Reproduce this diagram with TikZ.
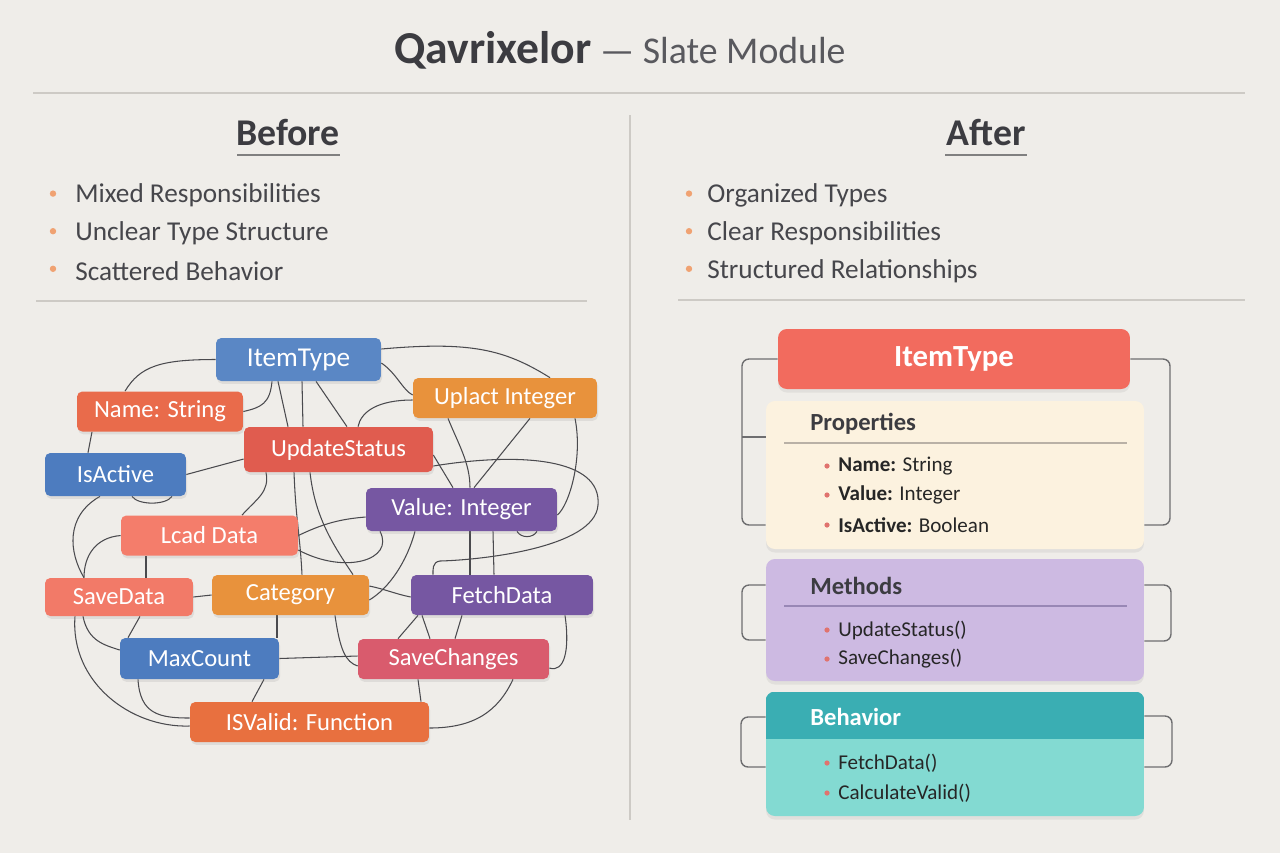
\documentclass[tikz,border=0pt]{standalone}
\usepackage{fontspec}
\setmainfont{Carlito}
\usetikzlibrary{shadows, backgrounds}

\definecolor{paper}{HTML}{EFEDE9}
\definecolor{ink}{HTML}{3C3C41}
\definecolor{listink}{HTML}{46464B}
\definecolor{rulegray}{HTML}{CDCAC5}
\definecolor{dotorange}{HTML}{F0A272}
\definecolor{dotred}{HTML}{E0736E}
\definecolor{wiregray}{HTML}{4A4A4E}
\definecolor{bracketgray}{HTML}{6E6E70}
\definecolor{tagblue}{HTML}{5A87C5}
\definecolor{tagnavy}{HTML}{4D7CBF}
\definecolor{tagorange}{HTML}{E8923C}
\definecolor{tagcoral}{HTML}{E96B4B}
\definecolor{tagred}{HTML}{E05C4F}
\definecolor{tagsalmon}{HTML}{F47D6B}
\definecolor{tagpurple}{HTML}{7657A2}
\definecolor{tagrose}{HTML}{D95B6D}
\definecolor{tagrust}{HTML}{E8703F}
\definecolor{hdrred}{HTML}{F26B5E}
\definecolor{propfill}{HTML}{FCF2DF}
\definecolor{proprule}{HTML}{B9B1A6}
\definecolor{methfill}{HTML}{CDBAE2}
\definecolor{methrule}{HTML}{9887B5}
\definecolor{behhead}{HTML}{3AAEB3}
\definecolor{behbody}{HTML}{83DAD2}

\tikzset{
  tag/.style={rectangle, rounded corners=3pt, text=white, minimum height=0.8cm,
    inner sep=2pt, font=\fontsize{14}{16}\selectfont,
    drop shadow={opacity=0.15, shadow xshift=0.6pt, shadow yshift=-1.6pt}},
  wire/.style={draw=wiregray, line width=0.6pt},
  bracket/.style={draw=bracketgray, line width=0.8pt, rounded corners=4pt},
  card/.style={rectangle, rounded corners=5pt, inner sep=0pt, minimum width=7.56cm,
    drop shadow={opacity=0.12, shadow xshift=0pt, shadow yshift=-2pt}},
  cardhead/.style={anchor=west, inner sep=0pt, text=ink, font=\bfseries\fontsize{14}{16}\selectfont},
  carditem/.style={anchor=west, inner sep=0pt, text=black!85, font=\fontsize{12}{14}\selectfont},
  listitem/.style={anchor=west, inner sep=0pt, text=listink, font=\fontsize{15.5}{18}\selectfont},
  colhead/.style={text=ink, font=\bfseries\fontsize{21.5}{25}\selectfont},
}

\begin{document}
\begin{tikzpicture}[x=0.02cm, y=-0.02cm]
\begin{pgfonlayer}{background}
  \fill[paper] (0,0) rectangle (1280,853);
\end{pgfonlayer}
\useasboundingbox (0,0) rectangle (1280,853);

% title and frame
\node[text=ink, font=\fontsize{21.5}{26}\selectfont] (title) at (620,50)
  {{\bfseries\fontsize{26}{28}\selectfont Qavrixelor} \textcolor{ink!85}{— Slate Module}};
\draw[rulegray, line width=0.9pt] (33,93) -- (1245,93);
\draw[rulegray, line width=0.9pt] (630,115) -- (630,820);

\node[colhead] (before) at (288,133) {Before};
\draw[gray, line width=0.8pt] (237,155) -- (340,155);
\node[colhead] (after) at (986,133) {After};
\draw[gray, line width=0.8pt] (945,155) -- (1027,155);

\foreach \t [count=\i] in {Mixed Responsibilities, Unclear Type Structure, Scattered Behavior} {
  \fill[dotorange] (53,156+\i*37.6) circle (3.2);
  \node[listitem] (bl\i) at (75,158+\i*37.6) {\t};
}
\foreach \t [count=\i] in {Organized Types, Clear Responsibilities, Structured Relationships} {
  \fill[dotorange] (689,156+\i*37.6) circle (3.2);
  \node[listitem] (al\i) at (707,158+\i*37.6) {\t};
}
\draw[rulegray, line width=0.9pt] (36,301) -- (587,301);
\draw[rulegray, line width=0.9pt] (678,300) -- (1245,300);

% before: the tangle
\node[tag, fill=tagblue, minimum width=3.3cm, minimum height=0.86cm, font=\fontsize{15.5}{18}\selectfont] (item) at (298.5,359.5) {ItemType};
\node[tag, fill=tagcoral, minimum width=3.32cm] (name) at (160,411.5) {Name: String};
\node[tag, fill=tagorange, minimum width=3.68cm] (uplact) at (505,398) {Uplact Integer};
\node[tag, fill=tagred, minimum width=3.78cm, minimum height=0.9cm] (upd) at (338.5,449.5) {UpdateStatus};
\node[tag, fill=tagnavy, minimum width=2.82cm, minimum height=0.86cm] (isact) at (115.5,474.5) {IsActive};
\node[tag, fill=tagpurple, minimum width=3.82cm, minimum height=0.86cm] (value) at (461.5,509.5) {Value: Integer};
\node[tag, fill=tagsalmon, minimum width=3.54cm] (lcad) at (209.5,535.5) {Lcad Data};
\node[tag, fill=tagsalmon!90!tagred, minimum width=2.96cm, minimum height=0.76cm] (savedata) at (119,597) {SaveData};
\node[tag, fill=tagorange, minimum width=3.14cm] (category) at (290.5,595) {Category};
\node[tag, fill=tagpurple, minimum width=3.64cm] (fetch) at (502,595) {FetchData};
\node[tag, fill=tagnavy, minimum width=3.18cm, minimum height=0.82cm] (maxc) at (199.5,658.5) {MaxCount};
\node[tag, fill=tagrose, minimum width=3.82cm] (savech) at (453.5,659) {SaveChanges};
\node[tag, fill=tagrust, minimum width=4.78cm] (isvalid) at (309.5,722) {ISValid: Function};

\begin{pgfonlayer}{background}
\draw[wire] (item.west) .. controls +(-55,0) and +(15,-25) .. (125,0 |- name.north);
\draw[wire] (272,0 |- item.south) .. controls +(-2,22) and +(18,-4) .. (name.east);
\draw[wire] (278,0 |- item.south) -- (288,0 |- upd.north);
\draw[wire] (302,0 |- item.south) -- (303,0 |- upd.north);
\draw[wire] (316,0 |- item.south) -- (347,0 |- upd.north);
\draw[wire] (item.east |- 0,349) .. controls +(90,-8) and +(-45,-28) .. (550,0 |- uplact.north);
\draw[wire] (item.east |- 0,363) .. controls +(15,10) and +(-10,-5) .. (uplact.west |- 0,395);
\draw[wire] (uplact.west |- 0,400) .. controls +(-35,0) and +(3,-15) .. (358,0 |- upd.north);
\draw[wire] (448,0 |- uplact.south) .. controls +(10,25) and +(0,-25) .. (470,0 |- value.north);
\draw[wire] (530,0 |- uplact.south) -- (474,0 |- value.north);
\draw[wire] (575,0 |- uplact.south) .. controls +(8,40) and +(12,-10) .. (value.east |- 0,515);
\draw[wire] (92,0 |- name.south) -- (88,0 |- isact.north);
\draw[wire] (isact.east) -- (upd.west |- 0,459);
\draw[wire] (132,0 |- isact.south) .. controls +(6,9) and +(-6,9) .. (172,0 |- isact.south);
\draw[wire] (100,0 |- isact.south) .. controls +(-35,20) and +(-15,-25) .. (84,0 |- savedata.north);
\draw[wire] (266,0 |- upd.south) .. controls +(4,20) and +(14,-16) .. (242,0 |- lcad.north);
\draw[wire] (294,0 |- upd.south) .. controls +(2,50) and +(-2,-40) .. (302,0 |- category.north);
\draw[wire] (310,0 |- upd.south) .. controls +(5,45) and +(-20,-30) .. (353,0 |- category.north);
\draw[wire] (upd.east |- 0,455) -- (453,0 |- value.north);
\draw[wire] (upd.east |- 0,466) .. controls (520,452) and (602,458) .. (598,505)
  .. controls (595,548) and (480,560) .. (440,561)
  .. controls (432,562) and (433,570) .. (433,0 |- fetch.north);
\draw[wire] (lcad.west) .. controls +(-25,2) and +(0,-22) .. (84,0 |- savedata.north);
\draw[wire] (146,0 |- lcad.south) -- (146,0 |- savedata.north);
\draw[wire] (lcad.east) .. controls +(25,-12) and +(-25,2) .. (value.west |- 0,517);
\draw[wire] (lcad.east |- 0,550) .. controls (345,575) and (395,560) .. (380,0 |- value.south);
\draw[wire] (517,0 |- value.south) .. controls +(4,7) and +(-4,7) .. (537,0 |- value.south);
\draw[wire] (470,0 |- value.south) -- (470,0 |- fetch.north);
\draw[wire] (493,0 |- value.south) -- (494,0 |- fetch.north);
\draw[wire] (415,0 |- value.south) .. controls +(-8,30) and +(20,-12) .. (category.east |- 0,600);
\draw[wire] (savedata.east) -- (category.west);
\draw[wire] (category.east |- 0,586) .. controls +(15,3) and +(-15,-3) .. (fetch.west |- 0,597);
\draw[wire] (83,0 |- savedata.south) .. controls +(5,25) and +(-15,-5) .. (maxc.west |- 0,650);
\draw[wire] (140,0 |- savedata.south) -- (128,0 |- maxc.north);
\draw[wire] (75,0 |- savedata.south) .. controls +(-5,65) and +(-60,2) .. (isvalid.west |- 0,726);
\draw[wire] (138,0 |- maxc.south) .. controls +(2,35) and +(-30,0) .. (isvalid.west |- 0,718);
\draw[wire] (maxc.east) -- (savech.west |- 0,656);
\draw[wire] (277,0 |- category.south) -- (277,0 |- maxc.north);
\draw[wire] (335,0 |- category.south) .. controls +(5,35) and +(-12,-4) .. (savech.west |- 0,666);
\draw[wire] (418,0 |- fetch.south) -- (398,0 |- savech.north);
\draw[wire] (422,0 |- fetch.south) -- (430,0 |- savech.north);
\draw[wire] (462,0 |- fetch.south) -- (455,0 |- savech.north);
\draw[wire] (565,0 |- fetch.south) .. controls +(5,35) and +(15,5) .. (savech.east |- 0,668);
\draw[wire] (418,0 |- savech.south) -- (421,0 |- isvalid.north);
\draw[wire] (513,0 |- savech.south) .. controls +(-15,32) and +(45,0) .. (isvalid.east |- 0,728);
\draw[wire] (264,0 |- maxc.south) -- (252,0 |- isvalid.north);
\end{pgfonlayer}

% after: the organized type
\node[rectangle, rounded corners=5pt, fill=hdrred, minimum width=7.04cm, minimum height=1.2cm,
  text=white, font=\bfseries\fontsize{17.5}{20}\selectfont,
  drop shadow={opacity=0.12, shadow xshift=0pt, shadow yshift=-2pt}] (hdr) at (954,359) {ItemType};

\node[card, fill=propfill, minimum height=2.96cm] (props) at (955,475) {};
\node[cardhead] (propstitle) at (810,424) {Properties};
\draw[proprule, line width=0.8pt] (784,443) -- (1127,443);
\foreach \k/\v/\y [count=\i] in {Name/String/466, Value/Integer/495, IsActive/Boolean/525} {
  \fill[dotred] (827,\y) circle (2.6);
  \node[carditem] (prop\i) at (838,\y) {\textbf{\k:} \v};
}

\node[card, fill=methfill, minimum height=2.44cm] (meth) at (955,620) {};
\node[cardhead] (methtitle) at (810,586) {Methods};
\draw[methrule, line width=0.8pt] (784,606) -- (1127,606);
\foreach \v/\y [count=\i] in {UpdateStatus()/630, SaveChanges()/659} {
  \fill[dotred] (827,\y) circle (2.6);
  \node[carditem] (meth\i) at (838,\y) {\v};
}

\node[card, fill=behbody, minimum height=2.48cm] (beh) at (955,754) {};
\begin{scope}
  \clip[rounded corners=5pt] (beh.south west) rectangle (beh.north east);
  \fill[behhead] (beh.north west) rectangle (1144,739);
\end{scope}
\node[cardhead, text=white] (behtitle) at (810,717) {Behavior};
\foreach \v/\y [count=\i] in {FetchData()/763, CalculateValid()/793} {
  \fill[dotred] (827,\y) circle (2.6);
  \node[carditem] (beh\i) at (838,\y) {\v};
}

% brackets
\draw[bracket] (hdr.west) -- (742,0 |- hdr.west) -- (742,525) -- (props.west |- 0,525);
\draw[bracket] (742,437) -- (props.west |- 0,437);
\draw[bracket] (hdr.east) -- (1170,0 |- hdr.east) -- (1170,525) -- (props.east |- 0,525);
\draw[bracket] (meth.west |- 0,585) -- (742,585) -- (742,640) -- (meth.west |- 0,640);
\draw[bracket] (meth.east |- 0,585) -- (1171,585) -- (1171,641) -- (meth.east |- 0,641);
\draw[bracket] (beh.west |- 0,717) -- (741,717) -- (741,767) -- (beh.west |- 0,767);
\draw[bracket] (beh.east |- 0,716) -- (1172,716) -- (1172,767) -- (beh.east |- 0,767);
\end{tikzpicture}
\end{document}
